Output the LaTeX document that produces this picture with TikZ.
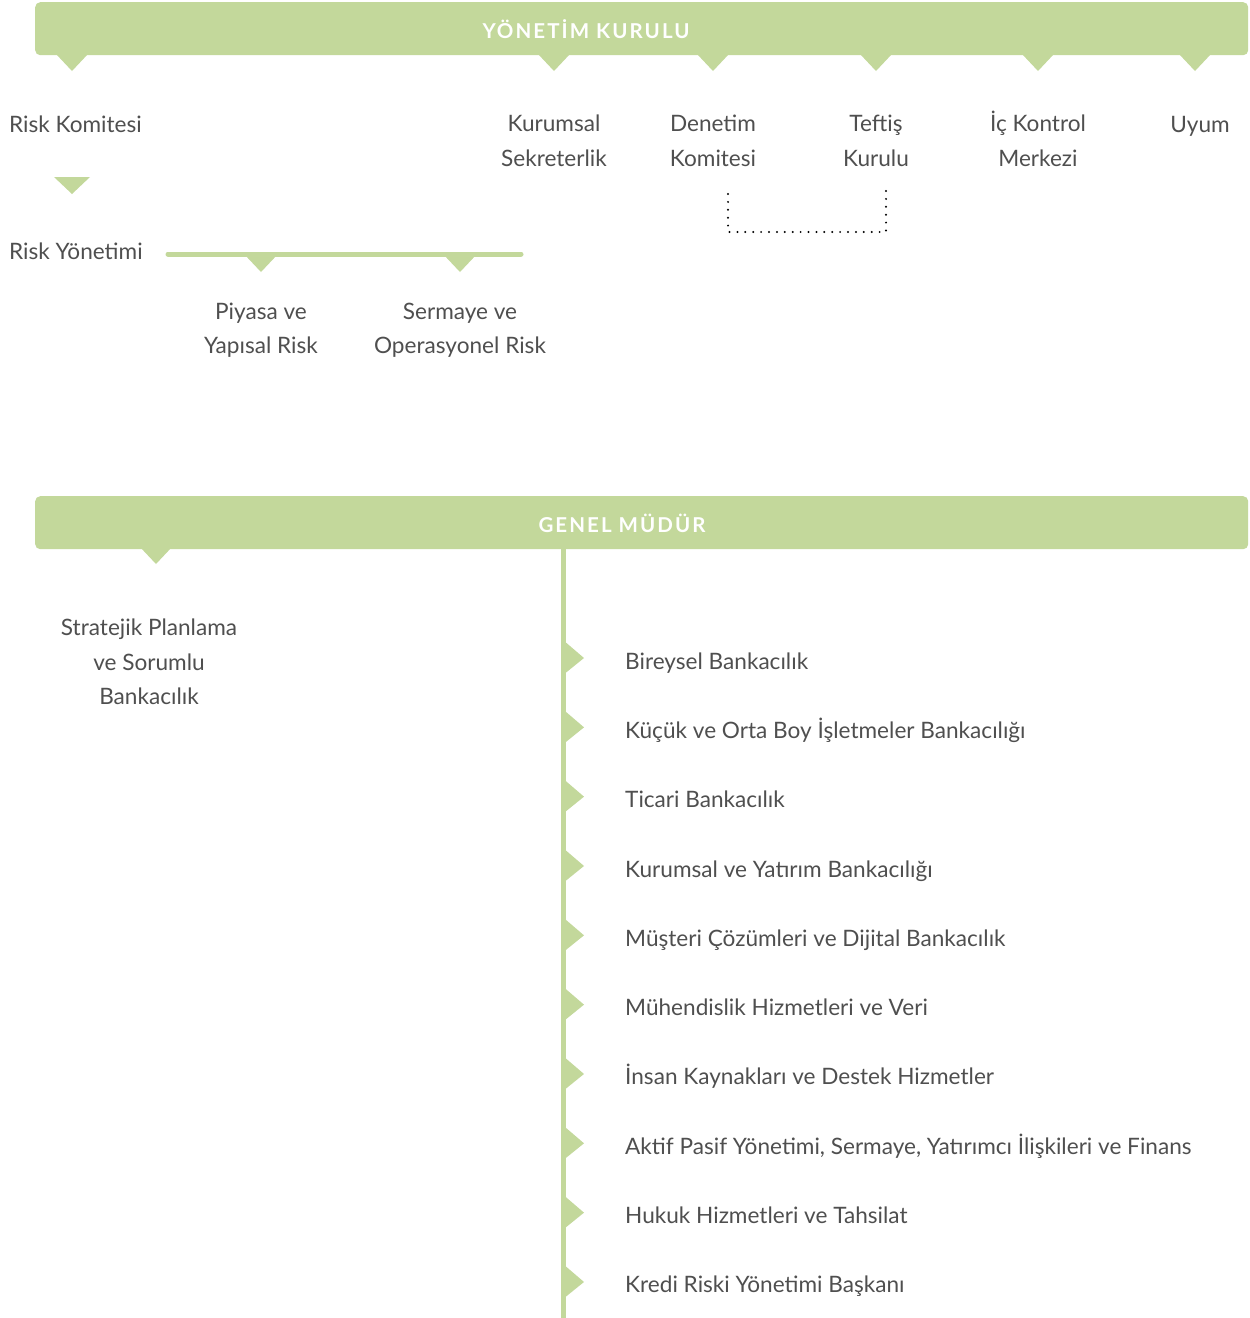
\documentclass[tikz,border=0pt]{standalone}
\usepackage{fontspec}
\setmainfont{Lato}
\usetikzlibrary{calc}

\definecolor{leaf}{HTML}{C3D89B}
\definecolor{ink}{HTML}{4F4F4F}

\begin{document}
\begin{tikzpicture}[x=1pt,y=-1pt,
    bar/.style={fill=leaf,rounded corners=5pt,anchor=north west,inner sep=0pt,
                minimum width=1213pt,minimum height=53pt},
    head/.style={text=white,inner sep=0pt,
                 font=\fontsize{20.5}{24}\selectfont\bfseries\addfontfeature{LetterSpace=10}},
    unit/.style={text=ink,align=center,inner sep=0pt,
                 font=\fontsize{22.6}{34.5}\selectfont},
    branch/.style={unit,anchor=base west},
    stem/.style={draw=leaf,line width=5pt},
    dots/.style={draw=black,line width=2.2pt,line cap=round,dash pattern=on 0pt off 7.9pt}]

    \useasboundingbox (0,0) rectangle (1250,1318);

    % Board
    \node[bar] (yk) at (35,2) {};
    \node[head] (yktext) at (586,29) {YÖNETİM KURULU};
    \foreach \x in {72,554,713,876,1038,1195}
        \fill[leaf] (\x-16,54) -- (\x+16,54) -- (\x,71) -- cycle;

    \node[branch] (riskkom) at (9,132) {Risk Komitesi};
    \node[unit] (kurumsal) at (554,141) {Kurumsal\\Sekreterlik};
    \node[unit] (denetim) at (713,141) {Denetim\\Komitesi};
    \node[unit] (teftis) at (876,141) {Teftiş\\Kurulu};
    \node[unit] (ickontrol) at (1038,139) {İç Kontrol\\Merkezi};
    \node[unit,anchor=base] (uyum) at (1200,132) {Uyum};

    % Audit link
    \coordinate (dl) at (728,194);
    \coordinate (dr) at (886,191);
    \draw[dots] (dl) -- (dl |- 0,232) -- (dr |- 0,232) -- (dr);

    % Risk
    \fill[leaf] (54,177) -- (90,177) -- (72,194) -- cycle;
    \node[branch] (riskyon) at (9,259) {Risk Yönetimi};
    \coordinate (rl) at (168,254);
    \coordinate (rr) at (521,254);
    \draw[stem,line cap=round] (rl) -- (rr);
    \foreach \x in {261,460}
        \fill[leaf] (\x-17,254) -- (\x+17,254) -- (\x,272) -- cycle;
    \node[unit] (piyasa) at (261,330) {Piyasa ve\\Yapısal Risk};
    \node[unit] (sermaye) at (460,330) {Sermaye ve\\Operasyonel Risk};

    % General manager
    \node[bar] (gm) at (35,496) {};
    \node[head] (gmtext) at (622,523) {GENEL MÜDÜR};
    \fill[leaf] (140,547) -- (172,547) -- (156,564) -- cycle;
    \node[unit] (strateji) at (149,662) {Stratejik Planlama\\ve Sorumlu\\Bankacılık};

    \coordinate (trunk) at (563,1318);
    \draw[stem] (gm.south -| trunk) -- (trunk);
    \foreach \name/\txt [count=\i from 0] in {
        bireysel/{Bireysel Bankacılık},
        kobi/{Küçük ve Orta Boy İşletmeler Bankacılığı},
        ticari/{Ticari Bankacılık},
        yatirim/{Kurumsal ve Yatırım Bankacılığı},
        dijital/{Müşteri Çözümleri ve Dijital Bankacılık},
        veri/{Mühendislik Hizmetleri ve Veri},
        ik/{İnsan Kaynakları ve Destek Hizmetler},
        finans/{Aktif Pasif Yönetimi, Sermaye, Yatırımcı İlişkileri ve Finans},
        hukuk/{Hukuk Hizmetleri ve Tahsilat},
        kredi/{Kredi Riski Yönetimi Başkanı}}
    {
        \pgfmathsetmacro{\y}{661+69.33*\i}
        \fill[leaf] (563,\y-21) -- (584,\y-3) -- (563,\y+14) -- cycle;
        \node[branch] (\name) at (625,\y+8) {\txt};
    }

\end{tikzpicture}
\end{document}
